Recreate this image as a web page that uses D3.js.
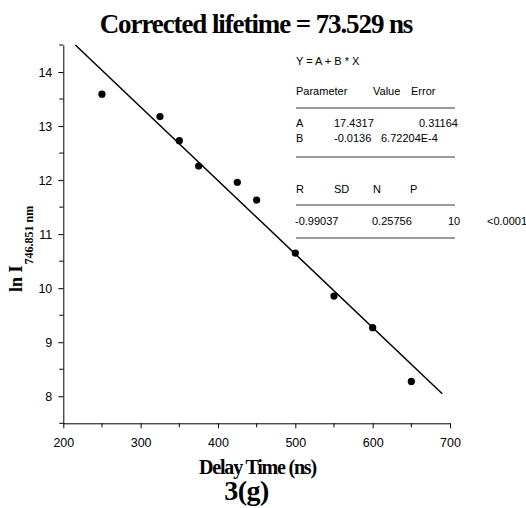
<!DOCTYPE html>
<html>
<head>
<meta charset="utf-8">
<script src="https://cdn.jsdelivr.net/npm/d3@7"></script>
<style>
  html, body { margin: 0; padding: 0; background: #fff; }
  svg { display: block; }
</style>
</head>
<body>
<script>
// ---- data ----
const delayTimes  = [250, 325, 350, 375, 425, 450, 500, 550, 600, 650];
const lnIntensity = [13.59, 13.175, 12.73, 12.26, 11.96, 11.63, 10.65, 9.855, 9.27, 8.275];
const fitIntercept = 17.4317;
const fitSlope = -0.0136;
const fitRange = [215.6, 690];
const xMajorTicks = [200, 300, 400, 500, 600, 700];
const xMinorTicks = [250, 350, 450, 550, 650];
const yMajorTicks = [8, 9, 10, 11, 12, 13, 14];
const yMinorTicks = [7.5, 8.5, 9.5, 10.5, 11.5, 12.5, 13.5, 14.5];
const titleText = "Corrected lifetime = 73.529 ns";
const xLabelText = "Delay Time (ns)";
const panelLabel = "3(g)";
const equationText = "Y = A + B * X";
const paramHeader = ["Parameter", "Value", "Error"];
const paramRows = [["A", "17.4317", "0.31164"], ["B", "-0.0136", "6.72204E-4"]];
const statHeader = ["R", "SD", "N", "P"];
const statRow = ["-0.99037", "0.25756", "10", "<0.0001"];

// ---- layout ----
const W = 526, H = 508;
const svg = d3.select("body").append("svg").attr("width", W).attr("height", H);
const x = d3.scaleLinear().domain([200, 700]).range([63.3, 450]);
const y = d3.scaleLinear().domain([7.5, 14.5]).range([423.3, 45]);
const sans = "'Liberation Sans', Arial, sans-serif";
const serif = "'Liberation Serif', 'Times New Roman', serif";

// title
svg.append("text").attr("x", 256).attr("y", 33).attr("text-anchor", "middle")
  .attr("font-family", serif).attr("font-weight", "bold").attr("font-size", 27)
  .attr("letter-spacing", "-1.1px").text(titleText);

// axes
function styleAxis(g) {
  g.selectAll("path, line").attr("stroke", "#000").attr("stroke-width", 1);
  g.selectAll("text").attr("font-family", sans).attr("font-size", 12.5).attr("fill", "#000");
}
const gx = svg.append("g").attr("transform", `translate(0,${y.range()[0]})`)
  .call(d3.axisBottom(x).tickValues(xMajorTicks).tickSize(5).tickSizeOuter(0).tickPadding(10).tickFormat(d3.format("d")));
styleAxis(gx);
gx.selectAll(".minor").data(xMinorTicks).enter().append("line").attr("class", "minor")
  .attr("x1", d => x(d)).attr("x2", d => x(d)).attr("y1", 0).attr("y2", 4).attr("stroke", "#000");

const gy = svg.append("g").attr("transform", `translate(${x.range()[0]},0)`)
  .call(d3.axisLeft(y).tickValues(yMajorTicks).tickSize(5).tickSizeOuter(0).tickPadding(6).tickFormat(d3.format("d")));
styleAxis(gy);
gy.selectAll(".minor").data(yMinorTicks).enter().append("line").attr("class", "minor")
  .attr("y1", d => y(d)).attr("y2", d => y(d)).attr("x1", 0).attr("x2", -4).attr("stroke", "#000");

// x label
svg.append("text").attr("x", 257.5).attr("y", 474).attr("text-anchor", "middle")
  .attr("font-family", serif).attr("font-weight", "bold").attr("font-size", 20)
  .attr("letter-spacing", "-1.2px").text(xLabelText);
svg.append("text").attr("x", 246.5).attr("y", 500).attr("text-anchor", "middle")
  .attr("font-family", serif).attr("font-weight", "bold").attr("font-size", 28)
  .attr("letter-spacing", "-0.5px").text(panelLabel);

// y label
const yl = svg.append("text").attr("transform", "translate(22,292) rotate(-90)")
  .attr("font-family", serif).attr("font-weight", "bold");
yl.append("tspan").attr("font-size", 18).text("ln I");
yl.append("tspan").attr("font-size", 12).attr("dy", 11).attr("dx", 1).text("746.851 nm");

// fit line
const fitPts = fitRange.map(t => [t, fitIntercept + fitSlope * t]);
svg.append("path").attr("d", d3.line().x(d => x(d[0])).y(d => y(d[1]))(fitPts))
  .attr("stroke", "#000").attr("stroke-width", 1.5).attr("fill", "none");

// points
svg.selectAll("circle.pt").data(delayTimes.map((t, i) => [t, lnIntensity[i]])).enter()
  .append("circle").attr("class", "pt").attr("cx", d => x(d[0])).attr("cy", d => y(d[1]))
  .attr("r", 3.6).attr("fill", "#000");

// stats box
const sb = svg.append("g").attr("font-family", sans).attr("font-size", 11).attr("fill", "#000");
sb.append("text").attr("x", 296).attr("y", 65).text(equationText);
const phX = [296, 373, 411];
paramHeader.forEach((t, i) => sb.append("text").attr("x", phX[i]).attr("y", 95).text(t));
const prX = [[296, 334, 419], [296, 334, 381]];
paramRows.forEach((row, r) => row.forEach((t, i) =>
  sb.append("text").attr("x", prX[r][i]).attr("y", 127 + r * 15).text(t)));
const shX = [296, 334, 373, 410];
statHeader.forEach((t, i) => sb.append("text").attr("x", shX[i]).attr("y", 193).text(t));
const srX = [295, 372, 448, 487];
statRow.forEach((t, i) => sb.append("text").attr("x", srX[i]).attr("y", 225).text(t));
[108, 157, 205, 238].forEach(yy => sb.append("line").attr("x1", 296).attr("x2", 455)
  .attr("y1", yy).attr("y2", yy).attr("stroke", "#000").attr("stroke-width", 0.8));
</script>
</body>
</html>
